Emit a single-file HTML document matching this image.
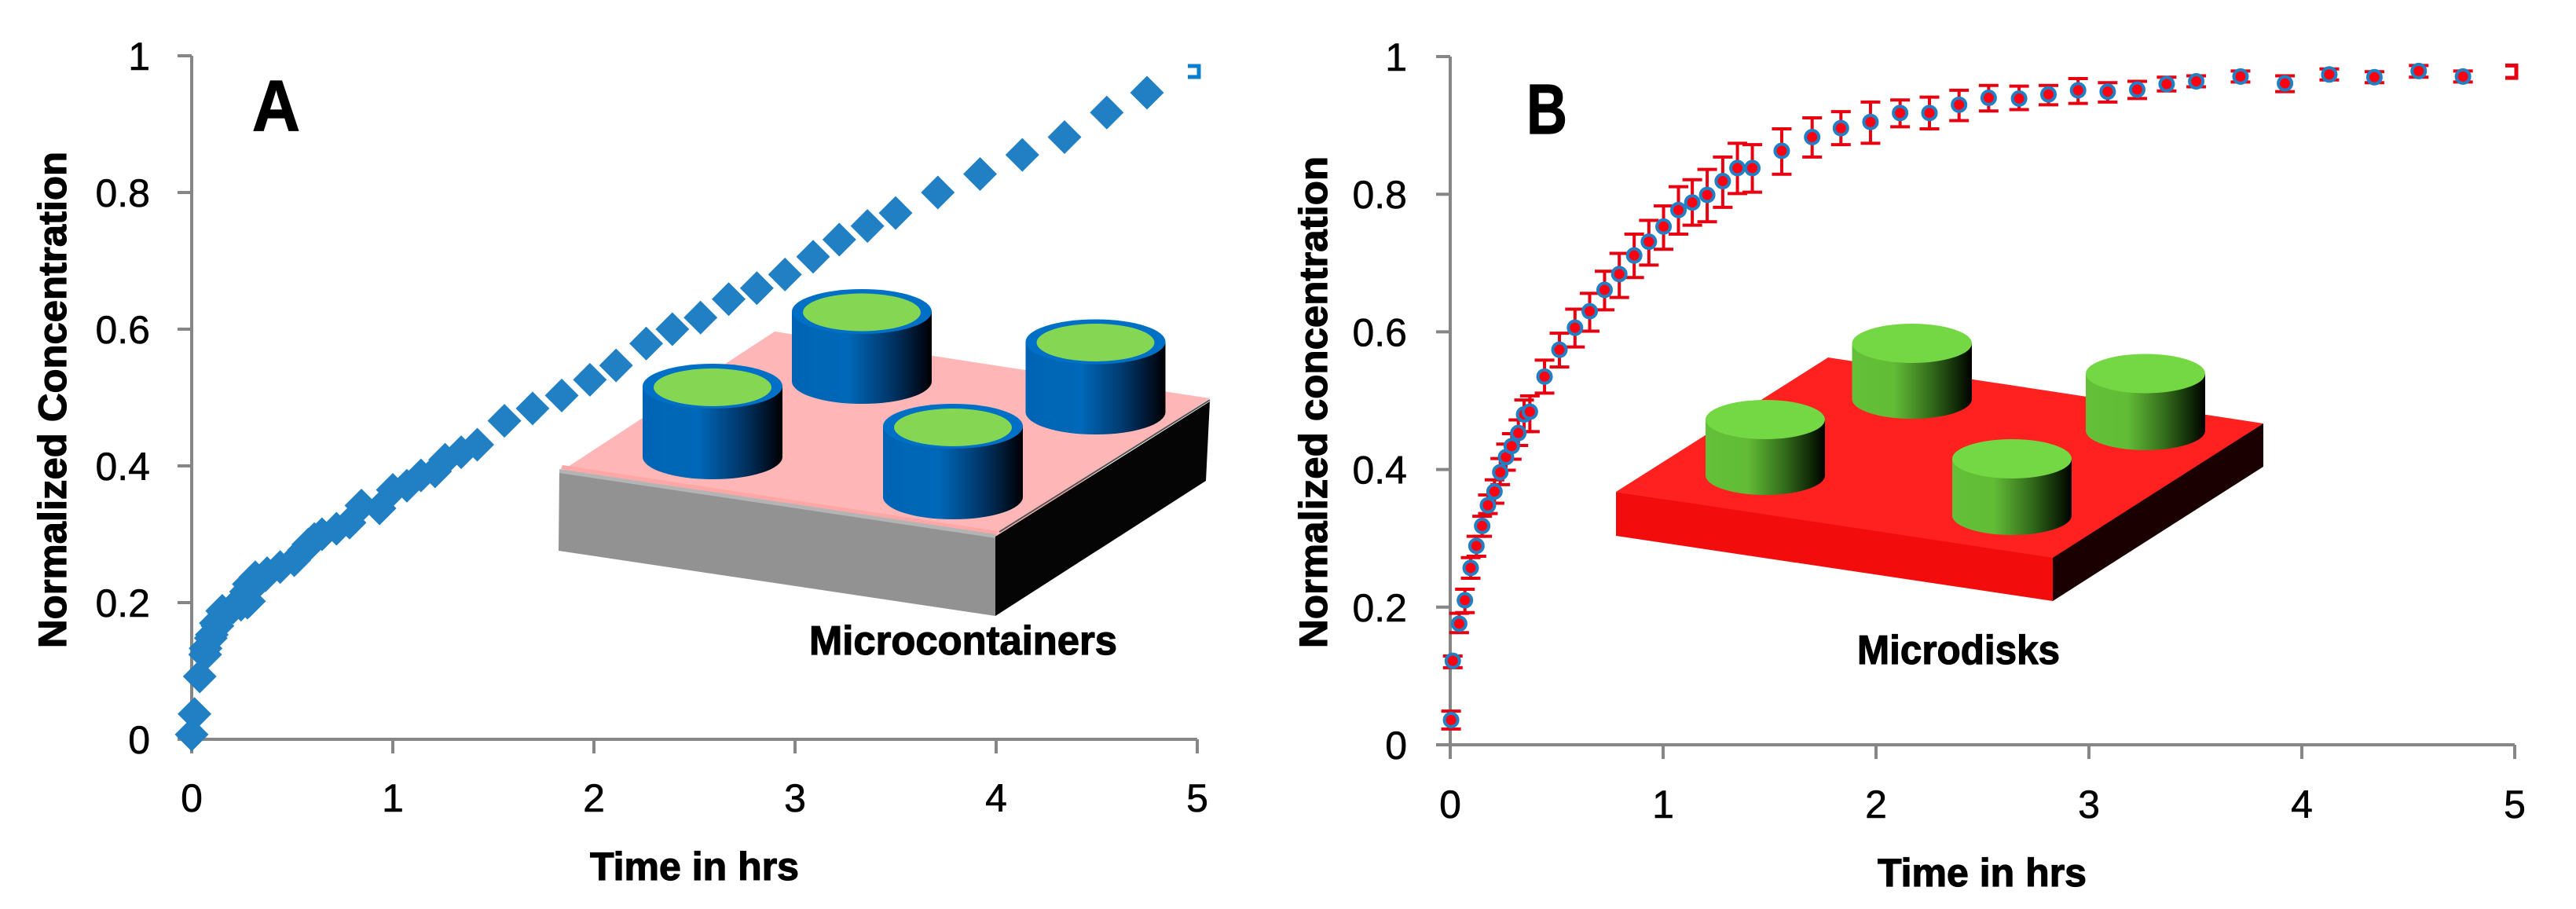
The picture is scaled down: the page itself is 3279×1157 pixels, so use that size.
<!DOCTYPE html>
<html lang="en">
<head>
<meta charset="utf-8">
<title>Normalized concentration over time: microcontainers and microdisks</title>
<style>
html,body{margin:0;padding:0;background:#fff;width:3279px;height:1157px;overflow:hidden}
svg{display:block}
text{font-family:"Liberation Sans",sans-serif;fill:#000}
.heavy{stroke:#000;stroke-width:1.2px}
</style>
</head>
<body>
<svg id="figure" xmlns="http://www.w3.org/2000/svg" width="3279" height="1157" viewBox="0 0 3279 1157">
<defs>
<linearGradient id="blueSide" x1="0" x2="1" y1="0" y2="0">
<stop offset="0" stop-color="#0064b4"/><stop offset=".4" stop-color="#0068b8"/><stop offset=".7" stop-color="#00386c"/><stop offset=".95" stop-color="#000814"/><stop offset="1" stop-color="#000"/>
</linearGradient>
<linearGradient id="greenSide" x1="0" x2="1" y1="0" y2="0">
<stop offset="0" stop-color="#64c038"/><stop offset=".35" stop-color="#62bc36"/><stop offset=".65" stop-color="#356f1c"/><stop offset=".92" stop-color="#0a1c04"/><stop offset="1" stop-color="#000"/>
</linearGradient>
</defs>
<rect x="0" y="0" width="3279" height="1157" fill="#fff"/>

<g id="inset-a">
<polygon points="986,422 1540,507 1269,684 714,600" fill="#ffb6b6"/>
<polygon points="716,592 1270,676 1268,681 714,597" fill="#ffa6a6"/>
<polygon points="712,599 1267,683 1267,784 711,701" fill="#929292"/>
<polygon points="712,597 1268,680 1268,685 712,602" fill="#b4b4b4"/>
<polygon points="1267,683 1540,511 1535,612 1267,784" fill="#050505"/>
<line x1="1272" y1="677" x2="1540" y2="509" stroke="#555" stroke-width="2"/>
<g>
<path d="M1008,396.5 V485.500 A89,28.500 0 0 0 1186,485.500 V396.500 Z" fill="url(#blueSide)"/>
<ellipse cx="1097" cy="396.500" rx="89" ry="28.500" fill="#0070c6"/><ellipse cx="1097" cy="397.500" rx="75" ry="24" fill="#85d652"/>
</g>
<g>
<path d="M1305.500,435 V524.500 A89,28.500 0 0 0 1483.500,524.500 V435 Z" fill="url(#blueSide)"/>
<ellipse cx="1394.500" cy="435" rx="89" ry="28.500" fill="#0070c6"/><ellipse cx="1394.500" cy="436" rx="75" ry="24" fill="#85d652"/>
</g>
<g>
<path d="M818,491.500 V581.500 A89,28.500 0 0 0 996,581.500 V491.500 Z" fill="url(#blueSide)"/>
<ellipse cx="907" cy="491.500" rx="89" ry="28.500" fill="#0070c6"/><ellipse cx="907" cy="493" rx="75" ry="24" fill="#85d652"/>
</g>
<g>
<path d="M1124,542.500 V632.500 A89,28.500 0 0 0 1302,632.500 V542.500 Z" fill="url(#blueSide)"/>
<ellipse cx="1213" cy="542.500" rx="89" ry="28.500" fill="#0070c6"/><ellipse cx="1213" cy="544" rx="75" ry="24" fill="#85d652"/>
</g>
</g>

<g id="inset-b">
<polygon points="2327,455 2881,539 2613,711 2057,626" fill="#ff2020"/>
<polygon points="2057,626 2613,710 2613,765 2057,682" fill="#f20c0c"/>
<polygon points="2613,710 2881,539 2881,594 2613,765" fill="#1a0000"/>
<g>
<path d="M2357.500,437 V508 A76,25 0 0 0 2510,508 V437 Z" fill="url(#greenSide)"/>
<ellipse cx="2433.750" cy="437" rx="76.250" ry="25" fill="#73d844"/>
</g>
<g>
<path d="M2655,475.500 V548 A76,25 0 0 0 2807,548 V475.500 Z" fill="url(#greenSide)"/>
<ellipse cx="2731" cy="475.500" rx="76" ry="25" fill="#73d844"/>
</g>
<g>
<path d="M2171,534 V605 A76,25 0 0 0 2323,605 V534 Z" fill="url(#greenSide)"/>
<ellipse cx="2247" cy="534" rx="76" ry="25" fill="#73d844"/>
</g>
<g>
<path d="M2485,584 V656 A76,25 0 0 0 2637,656 V584 Z" fill="url(#greenSide)"/>
<ellipse cx="2561" cy="584" rx="76" ry="25" fill="#73d844"/>
</g>
</g>

<g id="axes-a"></g>
<g id="axes-b"></g>
<g id="marks-a"></g>
<g id="marks-b"></g>

<text class="heavy" x="321" y="166" font-size="92" font-weight="700" textLength="61" lengthAdjust="spacingAndGlyphs">A</text>
<text class="heavy" x="1943" y="170" font-size="90" font-weight="700" textLength="52" lengthAdjust="spacingAndGlyphs">B</text>
<text class="heavy" transform="translate(84,825) rotate(-90)" font-size="50" font-weight="700" textLength="632" lengthAdjust="spacingAndGlyphs">Normalized Concentration</text>
<text class="heavy" transform="translate(1689,825) rotate(-90)" font-size="50" font-weight="700" textLength="626" lengthAdjust="spacingAndGlyphs">Normalized concentration</text>
<text class="heavy" x="751" y="1120" font-size="50" font-weight="700" textLength="266" lengthAdjust="spacingAndGlyphs">Time in hrs</text>
<text class="heavy" x="2390" y="1128" font-size="50" font-weight="700" textLength="266" lengthAdjust="spacingAndGlyphs">Time in hrs</text>
<text class="heavy" x="1030" y="833" font-size="52" font-weight="700" textLength="392" lengthAdjust="spacingAndGlyphs">Microcontainers</text>
<text class="heavy" x="2364" y="845" font-size="52" font-weight="700" textLength="258" lengthAdjust="spacingAndGlyphs">Microdisks</text>
</svg>

<script>
const xTickLabels = ["0","1","2","3","4","5"];
const yTickLabels = ["0","0.2","0.4","0.6","0.8","1"];

const timeA = [0,0.014,0.04,0.067,0.069,0.095,0.12,0.16,0.206,0.245,0.277,0.27,0.284,0.316,0.375,0.44,0.51,0.558,0.58,0.648,0.72,0.785,0.844,0.934,1.0,1.07,1.14,1.21,1.26,1.34,1.42,1.555,1.695,1.84,1.98,2.11,2.26,2.39,2.53,2.67,2.81,2.95,3.09,3.22,3.36,3.5,3.71,3.92,4.13,4.34,4.55,4.75,0.1,0.128,0.152,0.285,0.3,0.335,0.367,0.61];
const concA = [0.007,0.037,0.092,0.124,0.133,0.148,0.17,0.185,0.193,0.197,0.2,0.216,0.227,0.237,0.243,0.252,0.262,0.277,0.285,0.3,0.308,0.317,0.342,0.338,0.365,0.371,0.386,0.392,0.409,0.42,0.431,0.466,0.484,0.503,0.526,0.547,0.579,0.6,0.617,0.644,0.66,0.68,0.706,0.731,0.751,0.77,0.8,0.827,0.855,0.881,0.917,0.946,0.153,0.166,0.188,0.202,0.222,0.232,0.24,0.293];
const endTimeA = [5];
const endConcA = [0.977];
const endErrA = [0.008];

const timeB = [0.004,0.012,0.042,0.069,0.096,0.123,0.15,0.177,0.208,0.235,0.262,0.289,0.32,0.347,0.374,0.443,0.513,0.586,0.655,0.725,0.794,0.864,0.933,1.002,1.072,1.137,1.207,1.28,1.349,1.419,1.557,1.7,1.835,1.974,2.113,2.251,2.39,2.529,2.672,2.81,2.949,3.088,3.227,3.365,3.504,3.712,3.921,4.129,4.341,4.549,4.757];
const concB = [0.036,0.122,0.176,0.21,0.257,0.289,0.318,0.348,0.368,0.396,0.418,0.434,0.453,0.48,0.484,0.535,0.574,0.606,0.63,0.661,0.684,0.711,0.731,0.753,0.777,0.788,0.799,0.819,0.838,0.838,0.863,0.883,0.896,0.905,0.918,0.918,0.93,0.94,0.939,0.945,0.951,0.949,0.952,0.96,0.964,0.971,0.961,0.974,0.97,0.979,0.971];
const errUpB = [0.013,0.007,0.015,0.016,0.015,0.014,0.014,0.015,0.017,0.02,0.019,0.018,0.019,0.021,0.023,0.024,0.024,0.027,0.026,0.027,0.03,0.031,0.031,0.03,0.034,0.033,0.037,0.035,0.036,0.034,0.032,0.028,0.024,0.029,0.019,0.023,0.021,0.018,0.018,0.013,0.017,0.013,0.012,0.01,0.008,0.008,0.011,0.008,0.008,0.008,0.008];
const errLowB = [0.013,0.01,0.013,0.018,0.015,0.015,0.015,0.012,0.017,0.018,0.019,0.019,0.018,0.025,0.029,0.024,0.025,0.028,0.029,0.029,0.034,0.032,0.034,0.033,0.035,0.033,0.039,0.038,0.037,0.035,0.034,0.029,0.024,0.031,0.02,0.023,0.023,0.019,0.016,0.015,0.019,0.015,0.013,0.01,0.008,0.008,0.012,0.008,0.008,0.009,0.008];
const endTimeB = [5];
const endConcB = [0.978];
const endErrB = [0.009];

const NS = "http://www.w3.org/2000/svg";
function make(tag, attrs, parent) {
  const el = document.createElementNS(NS, tag);
  for (const k in attrs) el.setAttribute(k, attrs[k]);
  parent.appendChild(el);
  return el;
}

const scaleA = {
  x: function (v) { return 244 + v * 256; },
  y: function (v) { return 941 - v * 870; }
};
const scaleB = {
  x: function (v) { return 1846 + v * 271; },
  y: function (v) { return 948 - v * 876; }
};

function drawAxes(group, scale, yLabelRight, xLabelBase) {
  const axisStyle = { stroke: "#868686", "stroke-width": 4, fill: "none" };
  const x0 = scale.x(0), x1 = scale.x(xTickLabels.length - 1);
  const y0 = scale.y(0), y1 = scale.y(1);
  const yLine = make("line", Object.assign({ x1: x0, x2: x0, y1: y1, y2: y0 + 18 }, axisStyle), group);
  
  
  const xLine = make("line", Object.assign({ x1: x0 - 2, x2: x1, y1: y0, y2: y0 }, axisStyle), group);
  
  
  xTickLabels.forEach(function (label) {
    const px = scale.x(Number(label));
    const tick = make("line", Object.assign({ x1: px, x2: px, y1: y0, y2: y0 + 18 }, axisStyle), group);
    
    
    const text = make("text", { x: px, y: xLabelBase, "font-size": 50, "text-anchor": "middle", stroke: "#000", "stroke-width": 0.6 }, group);
    
    
    text.textContent = label;
  });
  yTickLabels.forEach(function (label) {
    const py = scale.y(Number(label));
    const tick = make("line", Object.assign({ x1: x0 - 18, x2: x0, y1: py, y2: py }, axisStyle), group);
    
    
    const text = make("text", { x: yLabelRight, y: py + 18, "font-size": 50, "text-anchor": "end", stroke: "#000", "stroke-width": 0.6 }, group);
    
    
    text.textContent = label;
  });
}

function drawEndBracket(group, scale, t, c, e, color) {
  const px = scale.x(t), py = scale.y(c), dy = e * 876;
  const path = make("path", {
    d: "M" + (px - 12) + "," + (py - dy) + " H" + (px + 2) + " V" + (py + dy) + " H" + (px - 12),
    fill: "none", stroke: color, "stroke-width": 5
  }, group);
  
  
}

function drawDiamonds(group, scale, times, values) {
  const r = 21.5;
  times.forEach(function (t, i) {
    const px = scale.x(t), py = scale.y(values[i]);
    const mark = make("polygon", {
      points: px + "," + (py - r) + " " + (px + r) + "," + py + " " + px + "," + (py + r) + " " + (px - r) + "," + py,
      fill: "#2180c4"
    }, group);
    
    
  });
}

function drawErrorBars(group, scale, times, values, up, low) {
  const cap = 12.5;
  times.forEach(function (t, i) {
    const px = scale.x(t);
    const top = scale.y(values[i] + up[i]);
    const bottom = scale.y(values[i] - low[i]);
    const bar = make("path", {
      d: "M" + px + "," + top + " V" + bottom + " M" + (px - cap) + "," + top + " H" + (px + cap) + " M" + (px - cap) + "," + bottom + " H" + (px + cap),
      fill: "none", stroke: "#e60010", "stroke-width": 4
    }, group);
    
    
  });
}

function drawCircles(group, scale, times, values) {
  times.forEach(function (t, i) {
    const mark = make("circle", {
      cx: scale.x(t), cy: scale.y(values[i]), r: 8.5,
      fill: "#ff0012", stroke: "#2180c4", "stroke-width": 4
    }, group);
    
    
  });
}

drawAxes(document.getElementById("axes-a"), scaleA, 191, 1033);
drawAxes(document.getElementById("axes-b"), scaleB, 1791, 1041);

const marksA = document.getElementById("marks-a");
drawEndBracket(marksA, scaleA, endTimeA[0], endConcA[0], endErrA[0], "#0a7fd0");
drawDiamonds(marksA, scaleA, timeA, concA);

const marksB = document.getElementById("marks-b");
drawErrorBars(marksB, scaleB, timeB, concB, errUpB, errLowB);
drawEndBracket(marksB, scaleB, endTimeB[0], endConcB[0], endErrB[0], "#e60010");
drawCircles(marksB, scaleB, timeB, concB);
</script>
</body>
</html>
